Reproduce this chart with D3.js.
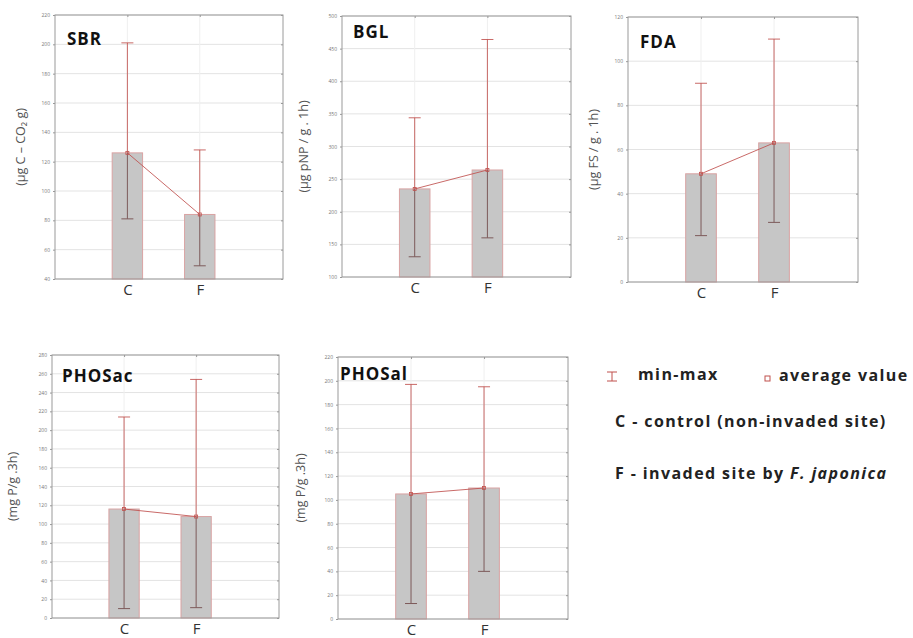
<!DOCTYPE html>
<html>
<head>
<meta charset="utf-8">
<script src="https://cdn.jsdelivr.net/npm/d3@7"></script>
<style>
  body { margin: 0; background: #fff; }
  text { font-family: "Open Sans", sans-serif; }
</style>
</head>
<body>
<div id="chart"></div>
<script>
// data
const groups = ["C", "F"];
const panelNames = ["SBR", "BGL", "FDA", "PHOSac", "PHOSal"];
const yLabels = ["(\u03bcg C \u2013 CO\u2082 g)", "(\u03bcg pNP / g . 1h)", "(\u03bcg FS / g . 1h)", "(mg P/g .3h)", "(mg P/g .3h)"];
const meanValues = [[126, 84], [235, 264], [49, 63], [116, 108], [105, 110]];
const minValues = [[81, 49], [131, 160], [21, 27], [10, 11], [13, 40]];
const maxValues = [[201, 128], [344, 464], [90, 110], [214, 254], [197, 195]];
const yDomains = [[40, 220], [100, 500], [0, 120], [0, 280], [0, 220]];
const yTickSteps = [20, 50, 20, 20, 20];

const width = 913, height = 638;
const red = "#c0504d";
const darkRed = "#7d5a5a";

// where each panel sits on the page
const frames = [
  {x: 55, y: 15, w: 228, h: 264, tx: 12, ty: 30, lx: 25},
  {x: 342, y: 16, w: 229, h: 261, tx: 11, ty: 22, lx: 308},
  {x: 628, y: 17, w: 230, h: 265, tx: 12, ty: 31, lx: 598},
  {x: 52, y: 355, w: 227, h: 263, tx: 10, ty: 27, lx: 17},
  {x: 338, y: 357, w: 230, h: 262, tx: 2, ty: 23, lx: 305}
];

let svg = d3.select("#chart")
    .append("svg")
    .attr("width", width)
    .attr("height", height);

function drawPanel(i) {
  let f = frames[i];
  let g = svg.append("g").attr("transform", `translate(${f.x}, ${f.y})`);

  let x = d3.scaleLinear().domain([0, 3.15]).range([0, f.w]);
  let y = d3.scaleLinear().domain(yDomains[i]).range([f.h, 0]);
  let ticks = d3.range(yDomains[i][0], yDomains[i][1] + 0.01, yTickSteps[i]);
  let barW = x(0.42) - x(0);

  // grid
  g.append("g").selectAll("line").data(ticks).enter().append("line")
      .attr("x1", 0).attr("x2", f.w)
      .attr("y1", d => y(d)).attr("y2", d => y(d))
      .attr("stroke", "#e3e3e3").attr("stroke-width", 1);
  g.append("g").selectAll("line").data([1, 2]).enter().append("line")
      .attr("x1", d => x(d)).attr("x2", d => x(d))
      .attr("y1", 0).attr("y2", f.h)
      .attr("stroke", "#efefef").attr("stroke-width", 1);

  // bars
  g.append("g").selectAll("rect").data(meanValues[i]).enter().append("rect")
      .attr("x", (d, k) => x(k + 1) - barW / 2)
      .attr("y", d => y(d))
      .attr("width", barW)
      .attr("height", d => f.h - y(d))
      .attr("fill", "#c6c6c6")
      .attr("stroke", "#d9a3a3")
      .attr("stroke-width", 1);

  // min-max whiskers (the part over the bar looks darker)
  let wh = g.append("g").attr("stroke-width", 1);
  groups.forEach((c, k) => {
    let cx = x(k + 1);
    let lo = minValues[i][k], hi = maxValues[i][k], m = meanValues[i][k];
    wh.append("line").attr("x1", cx).attr("x2", cx)
        .attr("y1", y(m)).attr("y2", y(hi)).attr("stroke", red).attr("opacity", 0.85);
    wh.append("line").attr("x1", cx).attr("x2", cx)
        .attr("y1", y(lo)).attr("y2", y(m)).attr("stroke", darkRed);
    wh.append("line").attr("x1", cx - 6).attr("x2", cx + 6)
        .attr("y1", y(hi)).attr("y2", y(hi)).attr("stroke", red).attr("opacity", 0.85);
    wh.append("line").attr("x1", cx - 6).attr("x2", cx + 6)
        .attr("y1", y(lo)).attr("y2", y(lo)).attr("stroke", darkRed);
  });

  // line through the means
  let line = d3.line().x((d, k) => x(k + 1)).y(d => y(d));
  g.append("path").datum(meanValues[i])
      .attr("d", line)
      .attr("fill", "none")
      .attr("stroke", red)
      .attr("stroke-width", 1)
      .attr("opacity", 0.85);
  g.append("g").selectAll("rect").data(meanValues[i]).enter().append("rect")
      .attr("x", (d, k) => x(k + 1) - 1.5)
      .attr("y", d => y(d) - 1.5)
      .attr("width", 3).attr("height", 3)
      .attr("fill", "none").attr("stroke", red).attr("stroke-width", 0.8);

  // frame
  g.append("rect").attr("width", f.w).attr("height", f.h)
      .attr("fill", "none").attr("stroke", "#9a9a9a").attr("stroke-width", 1);

  // axes
  let yAxis = g.append("g").call(d3.axisLeft(y).tickValues(ticks).tickSize(2).tickPadding(3));
  yAxis.select(".domain").remove();
  yAxis.selectAll("line").attr("stroke", "#999");
  yAxis.selectAll("text").style("font-size", "5px").attr("fill", "#777");

  let rAxis = g.append("g").attr("transform", `translate(${f.w},0)`)
      .call(d3.axisLeft(y).tickValues(ticks).tickSize(2).tickFormat(""));
  rAxis.select(".domain").remove();
  rAxis.selectAll("line").attr("stroke", "#999");

  let tAxis = g.append("g").call(d3.axisBottom(x).tickValues([1, 2]).tickSize(2).tickFormat(""));
  tAxis.select(".domain").remove();
  tAxis.selectAll("line").attr("stroke", "#999");

  let xAxis = g.append("g").attr("transform", `translate(0, ${f.h})`)
      .call(d3.axisBottom(x).tickValues([1, 2]).tickSize(0).tickPadding(5)
          .tickFormat(d => groups[d - 1]));
  xAxis.select(".domain").remove();
  xAxis.selectAll("text").style("font-size", "15px").attr("fill", "#333");

  // panel title
  g.append("text")
      .attr("x", f.tx).attr("y", f.ty)
      .style("font-size", "17px").style("font-weight", "bold")
      .style("letter-spacing", "1px")
      .attr("fill", "#111")
      .text(panelNames[i]);

  // y label
  svg.append("text")
      .attr("transform", `translate(${f.lx}, ${f.y + f.h / 2}) rotate(-90)`)
      .style("text-anchor", "middle")
      .style("font-size", "12.5px")
      .attr("fill", "#555")
      .text(yLabels[i]);
}

panelNames.forEach((p, i) => drawPanel(i));

// legend
let leg = svg.append("g")
    .style("font-size", "16px").style("font-weight", "bold")
    .style("letter-spacing", "1.4px");
leg.append("line").attr("x1", 612).attr("x2", 612).attr("y1", 372).attr("y2", 381).attr("stroke", red);
leg.append("line").attr("x1", 607).attr("x2", 617).attr("y1", 372).attr("y2", 372).attr("stroke", red);
leg.append("line").attr("x1", 607).attr("x2", 617).attr("y1", 381).attr("y2", 381).attr("stroke", red);
leg.append("text").attr("x", 638).attr("y", 380)
    .attr("fill", "#222").text("min-max");
leg.append("rect").attr("x", 765).attr("y", 376).attr("width", 5).attr("height", 5)
    .attr("fill", "none").attr("stroke", red).attr("stroke-width", 1);
leg.append("text").attr("x", 779).attr("y", 381)
    .attr("fill", "#222").text("average value");
leg.append("text").attr("x", 615).attr("y", 427)
    .attr("fill", "#222")
    .text("C - control (non-invaded site)");
let ft = leg.append("text").attr("x", 615).attr("y", 479)
    .attr("fill", "#222");
ft.append("tspan").text("F - invaded site by ");
ft.append("tspan").style("font-style", "italic").text("F. japonica");
</script>
</body>
</html>
